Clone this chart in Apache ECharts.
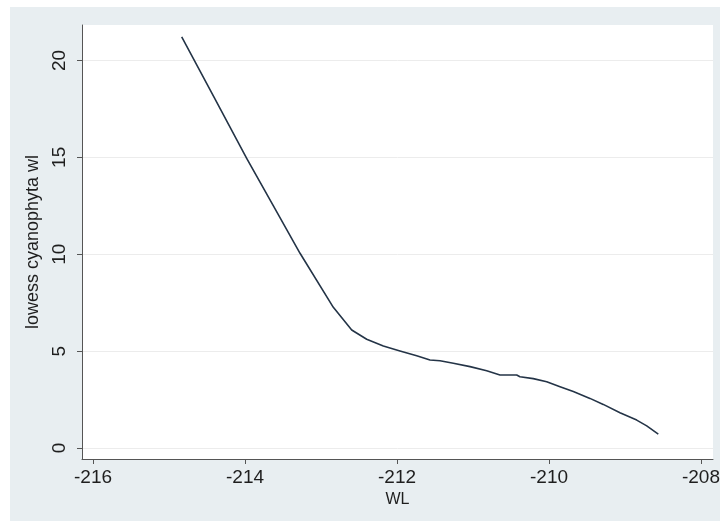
<!DOCTYPE html>
<html>
<head>
<meta charset="utf-8">
<script src="https://cdn.jsdelivr.net/npm/echarts@6/dist/echarts.min.js"></script>
<style>
  html, body { margin: 0; padding: 0; background: #ffffff; }
  #chart { width: 720px; height: 521px; }
</style>
</head>
<body>
<div id="chart"></div>
<script>
// Lowess smooth of cyanophyta against water level (WL)
const wl = [
  -214.833, -214.408, -213.978, -213.632, -213.276, -212.838, -212.596,
  -212.399, -212.180, -211.961, -211.741, -211.566, -211.434, -211.259,
  -211.039, -210.820, -210.645, -210.425, -210.382, -210.207, -210.030,
  -209.855, -209.680, -209.461, -209.286, -209.066, -208.846, -208.714,
  -208.562
];
const lowessCyano = [
  21.22, 18.11, 14.95, 12.53, 10.05, 7.26, 6.09,
  5.61, 5.26, 5.01, 4.76, 4.54, 4.50, 4.37,
  4.20, 3.99, 3.77, 3.77, 3.68, 3.58, 3.42,
  3.16, 2.91, 2.56, 2.25, 1.82, 1.44, 1.14,
  0.72
];
const xTicks = [-216, -214, -212, -210, -208];
const yTicks = [0, 5, 10, 15, 20];

const points = wl.map((x, i) => [x, lowessCyano[i]]);

const chart = echarts.init(document.getElementById('chart'), null, { renderer: 'canvas' });

const tickFont = { fontFamily: 'Liberation Sans', fontSize: 19, color: '#1e1e1e' };

chart.setOption({
  animation: false,
  backgroundColor: '#ffffff',
  graphic: [{
    type: 'rect',
    z: -10,
    silent: true,
    shape: { x: 10, y: 7, width: 710, height: 514 },
    style: { fill: '#e8eef1' }
  }],
  grid: {
    left: 82, top: 25, width: 631, height: 434,
    show: true, backgroundColor: '#ffffff', borderWidth: 0,
    containLabel: false, outerBoundsMode: 'none'
  },
  xAxis: {
    type: 'value',
    min: -216.145, max: -207.842,
    name: 'WL',
    nameLocation: 'middle',
    nameGap: 32,
    nameTextStyle: { fontFamily: 'Liberation Sans', fontSize: 16, color: '#1e1e1e' },
    axisLine: { show: true, onZero: false, lineStyle: { color: '#555555', width: 1 } },
    axisTick: { show: true, length: 5, inside: false, customValues: xTicks, lineStyle: { color: '#555555' } },
    axisLabel: Object.assign({ margin: 9, customValues: xTicks, formatter: v => String(v) }, tickFont),
    splitLine: { show: false }
  },
  yAxis: {
    type: 'value',
    min: -0.568, max: 21.832,
    name: 'lowess cyanophyta wl',
    nameLocation: 'middle',
    nameRotate: 90,
    nameGap: 35,
    nameTextStyle: { fontFamily: 'Liberation Sans', fontSize: 18, color: '#1e1e1e' },
    axisLine: { show: true, onZero: false, lineStyle: { color: '#555555', width: 1 } },
    axisTick: { show: true, length: 5, inside: false, customValues: yTicks, lineStyle: { color: '#555555' } },
    axisLabel: Object.assign({ margin: 13, rotate: 90, customValues: yTicks, formatter: v => String(v) }, tickFont),
    splitLine: { show: true, lineStyle: { color: '#ececec', width: 1 } }
  },
  series: [{
    type: 'line',
    data: points,
    showSymbol: false,
    smooth: false,
    lineStyle: { color: '#243447', width: 1.6, join: 'round' }
  }]
});
</script>
</body>
</html>
